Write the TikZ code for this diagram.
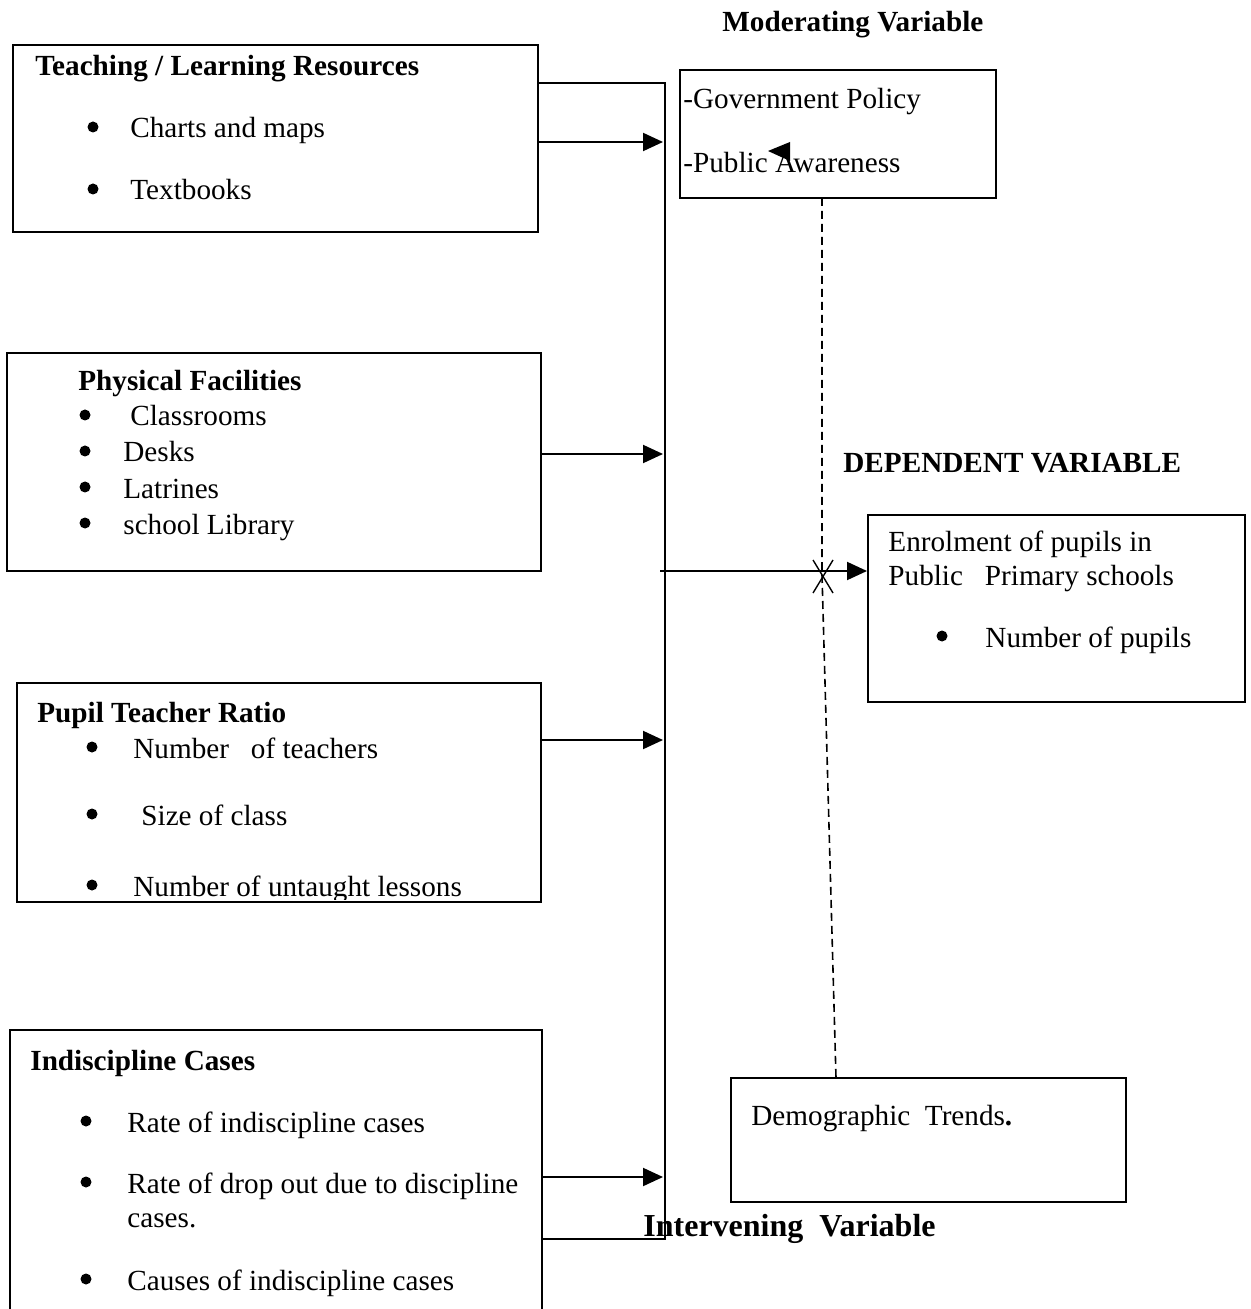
\documentclass[tikz,border=0pt]{standalone}
\usepackage{fontspec}
\setmainfont{Liberation Serif}
\usetikzlibrary{arrows.meta,fit}
\begin{document}
\begin{tikzpicture}[x=0.5pt,y=-0.5pt,
 box/.style={draw,line width=1pt,inner sep=0pt},
 txt/.style={anchor=base west,inner sep=0pt,font=\fontsize{14.6}{17}\selectfont},
 bold/.style={anchor=base west,inner sep=0pt,font=\fontsize{14.6}{17}\selectfont\bfseries},
 bigbold/.style={anchor=base west,inner sep=0pt,font=\fontsize{16}{19}\selectfont\bfseries},
 bul/.style={circle,fill,inner sep=0pt,minimum size=5.5pt},
 arr/.style={line width=1pt,-{Triangle[length=10pt,width=9pt]}},
 ln/.style={line width=1pt},
 dsh/.style={line width=0.8pt,dash pattern=on 4pt off 2.5pt}]
\useasboundingbox (0,0) rectangle (1250,1309);

% boxes
\coordinate (tlA) at (13,45); \coordinate (tlB) at (538,232);
\node[box,fit=(tlA)(tlB)] (tl) {};
\coordinate (pfA) at (7,353); \coordinate (pfB) at (541,571);
\node[box,fit=(pfA)(pfB)] (pf) {};
\coordinate (prA) at (17,683); \coordinate (prB) at (541,902);
\node[box,fit=(prA)(prB)] (ptr) {};
\coordinate (icL) at (10,1309); \coordinate (icT) at (542,1030); \coordinate (icR) at (542,1309);
\draw[ln] (icL) |- (icT) -- (icR);
\coordinate (mdA) at (680,70); \coordinate (mdB) at (996,198);
\node[box,fit=(mdA)(mdB)] (mod) {};
\coordinate (dpA) at (868,515); \coordinate (dpB) at (1245,702);
\node[box,fit=(dpA)(dpB)] (dep) {};
\coordinate (dmA) at (731,1078); \coordinate (dmB) at (1126,1202);
\node[box,fit=(dmA)(dmB)] (dem) {};

% bus line
\coordinate (b0) at (665,83);
\coordinate (b1) at (665,1239);
\coordinate (b2) at (542,1239);
\draw[ln] (tl.east |- b0) -- (b0) -- (b1) -- (b2);

% arrows to bus
\coordinate (t1) at (663,142);
\draw[arr] (tl.east |- t1) -- (t1);
\coordinate (p1) at (663,454);
\draw[arr] (pf.east |- p1) -- (p1);
\coordinate (r1) at (663,740);
\draw[arr] (ptr.east |- r1) -- (r1);
\coordinate (i0) at (542,1177);
\coordinate (i1) at (663,1177);
\draw[arr] (i0) -- (i1);
\coordinate (m0) at (660,571);
\draw[arr] (m0) -- (dep.west |- m0);

% dashed moderating/intervening line
\coordinate (d0) at (822,198);
\coordinate (d1) at (822,575);
\coordinate (d2) at (836,1078);
\draw[dsh] (d0) -- (d1) -- (d2);
\draw[line width=0.7pt] (813,560) -- (833,593) (833,560) -- (813,593);

% stray arrowhead
\fill (768,151) -- (790,142) -- (790,161) -- cycle;

% texts
\node[bold] (tModH) at (722,32) {Moderating Variable};
\node[bold] (tTL) at (35,76) {Teaching / Learning Resources};
\node[bul] (bTL1) at (93,127) {};
\node[txt] (tTL1) at (130,138) {Charts and maps};
\node[bul] (bTL2) at (93,189) {};
\node[txt] (tTL2) at (130,200) {Textbooks};

\node[bold] (tPF) at (78,391) {Physical Facilities};
\node[bul] (bPF1) at (85,415) {};
\node[txt] (tPF1) at (130,426) {Classrooms};
\node[bul] (bPF2) at (85,451) {};
\node[txt] (tPF2) at (123,462) {Desks};
\node[bul] (bPF3) at (85,487) {};
\node[txt] (tPF3) at (123,498) {Latrines};
\node[bul] (bPF4) at (85,523) {};
\node[txt] (tPF4) at (123,534) {school Library};

\node[bold] (tPR) at (37,722) {Pupil Teacher Ratio};
\node[bul] (bPR1) at (92,747) {};
\node[txt] (tPR1) at (133,758) {Number\ \ \ of teachers};
\node[bul] (bPR2) at (92,814) {};
\node[txt] (tPR2) at (141,825) {Size of class};
\begin{scope}
\clip (0,0) rectangle (1250,899);
\node[bul] (bPR3) at (92,885) {};
\node[txt] (tPR3) at (133,896) {Number of untaught lessons};
\end{scope}

\node[bold] (tIC) at (30,1070) {Indiscipline Cases};
\node[bul] (bIC1) at (86,1121) {};
\node[txt] (tIC1) at (127,1132) {Rate of indiscipline cases};
\node[bul] (bIC2) at (86,1182) {};
\node[txt] (tIC2) at (127,1193) {Rate of drop out due to discipline};
\node[txt] (tIC3) at (127,1227) {cases.};
\node[bul] (bIC4) at (86,1279) {};
\node[txt] (tIC4) at (127,1290) {Causes of indiscipline cases};

\node[txt] (tMod1) at (683,109) {-Government Policy};
\node[txt] (tMod2) at (683,173) {-Public Awareness};

\node[bold] (tDepH) at (843,473) {DEPENDENT VARIABLE};
\node[txt] (tDep1) at (888,551) {Enrolment of pupils in};
\node[txt] (tDep2) at (888,585) {Public\ \ \ Primary schools};
\node[bul] (bDep3) at (942,636) {};
\node[txt] (tDep3) at (985,647) {Number of pupils};

\node[txt] (tDem) at (751,1125) {Demographic\ \ Trends\textbf{.}};
\node[bigbold] (tInt) at (643,1236) {Intervening\ \ Variable};
\end{tikzpicture}
\end{document}
